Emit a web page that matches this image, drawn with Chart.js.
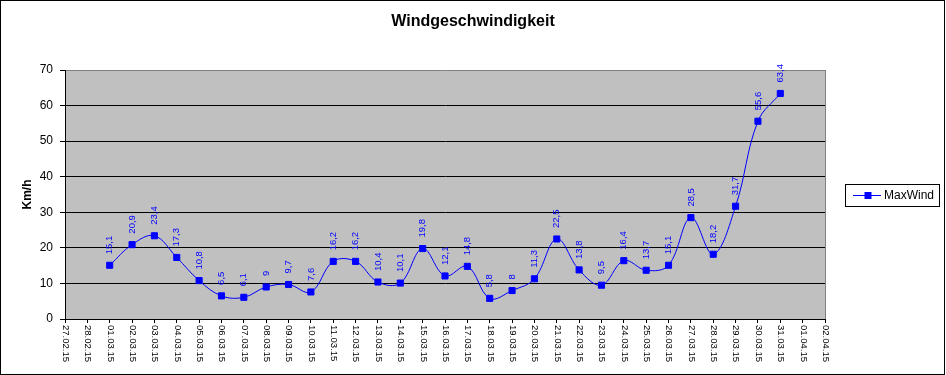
<!DOCTYPE html>
<html>
<head>
<meta charset="utf-8">
<script src="https://cdn.jsdelivr.net/npm/chart.js@4/dist/chart.umd.min.js"></script>
<style>
html,body{margin:0;padding:0;background:#fff;}
#wrap{width:946px;height:375px;}
</style>
</head>
<body>
<div id="wrap"><canvas id="c" width="946" height="375"></canvas></div>
<script>
const chartTitle = 'Windgeschwindigkeit';
const yAxisTitle = 'Km/h';
const seriesName = 'MaxWind';
const dateLabels = ['27.02.15','28.02.15','01.03.15','02.03.15','03.03.15','04.03.15','05.03.15','06.03.15','07.03.15','08.03.15','09.03.15','10.03.15','11.03.15','12.03.15','13.03.15','14.03.15','15.03.15','16.03.15','17.03.15','18.03.15','19.03.15','20.03.15','21.03.15','22.03.15','23.03.15','24.03.15','25.03.15','26.03.15','27.03.15','28.03.15','29.03.15','30.03.15','31.03.15','01.04.15','02.04.15'];
const maxWind = [null,null,15.1,20.9,23.4,17.3,10.8,6.5,6.1,9,9.7,7.6,16.2,16.2,10.4,10.1,19.8,12.1,14.8,5.8,8,11.3,22.5,13.8,9.5,16.4,13.7,15.1,28.5,18.2,31.7,55.6,63.4,null,null];
const yMin = 0, yMax = 70, yStep = 10;

const FONT = "'Liberation Sans', Arial, sans-serif";
const BLUE = '#0000FF';

const deco = {
  id: 'deco',
  beforeDraw(chart) {
    const ctx = chart.ctx, a = chart.chartArea;
    ctx.save();
    ctx.fillStyle = '#ffffff';
    ctx.fillRect(0, 0, chart.width, chart.height);
    ctx.fillStyle = '#C0C0C0';
    ctx.fillRect(a.left, a.top, a.right - a.left, a.bottom - a.top);
    ctx.restore();
  },
  afterDatasetsDraw(chart) {
    const ctx = chart.ctx;
    const meta = chart.getDatasetMeta(0);
    const data = chart.data.datasets[0].data;
    ctx.save();
    ctx.fillStyle = BLUE;
    ctx.font = '9.5px ' + FONT;
    ctx.textAlign = 'left';
    ctx.textBaseline = 'middle';
    meta.data.forEach((pt, i) => {
      const v = data[i];
      if (v === null || v === undefined) return;
      ctx.save();
      ctx.translate(pt.x, pt.y - 11);
      ctx.rotate(-Math.PI / 2);
      ctx.fillText(String(v).replace('.', ','), 0, 0);
      ctx.restore();
    });
    ctx.restore();
  },
  afterDraw(chart) {
    const ctx = chart.ctx;
    const xs = chart.scales.x;
    ctx.save();
    // title centred on the whole canvas
    ctx.fillStyle = '#000';
    ctx.font = 'bold 16px ' + FONT;
    ctx.textAlign = 'center';
    ctx.textBaseline = 'middle';
    ctx.fillText(chartTitle, chart.width / 2, 22);
    // x tick labels, rotated clockwise
    ctx.font = '9.5px ' + FONT;
    ctx.textAlign = 'left';
    ctx.textBaseline = 'middle';
    chart.data.labels.forEach((lab, i) => {
      const x = xs.getPixelForValue(i);
      ctx.save();
      ctx.translate(x + 0.5, xs.top + 6);
      ctx.rotate(Math.PI / 2);
      ctx.fillText(lab, 0, 0);
      ctx.restore();
    });
    // legend
    ctx.strokeStyle = '#000';
    ctx.lineWidth = 1;
    ctx.strokeRect(845.5, 184.5, 94, 22);
    ctx.strokeStyle = BLUE;
    ctx.beginPath();
    ctx.moveTo(853, 195.5);
    ctx.lineTo(881, 195.5);
    ctx.stroke();
    ctx.fillStyle = BLUE;
    ctx.fillRect(864.5, 192, 7, 7);
    ctx.fillStyle = '#000';
    ctx.font = '12px ' + FONT;
    ctx.textAlign = 'left';
    ctx.textBaseline = 'middle';
    ctx.fillText(seriesName, 884, 196);
    // outer border
    ctx.strokeStyle = '#000';
    ctx.strokeRect(0.5, 0.5, 944, 374);
    ctx.restore();
  }
};

new Chart(document.getElementById('c'), {
  type: 'line',
  data: {
    labels: dateLabels,
    datasets: [{
      label: seriesName,
      data: maxWind,
      borderColor: BLUE,
      backgroundColor: BLUE,
      borderWidth: 1,
      tension: 0.38,
      pointStyle: 'rect',
      pointRadius: 4.3,
      pointBorderWidth: 1,
      pointBorderColor: BLUE,
      pointBackgroundColor: BLUE,
      spanGaps: false,
      fill: false
    }]
  },
  options: {
    responsive: false,
    animation: false,
    events: [],
    layout: { padding: { left: 0, right: 121, top: 70, bottom: 0 } },
    plugins: {
      legend: { display: false },
      tooltip: { enabled: false },
      title: { display: false }
    },
    scales: {
      x: {
        type: 'category',
        offset: false,
        border: { display: true, color: '#000', width: 1 },
        grid: {
          display: true,
          drawOnChartArea: true,
          drawTicks: true,
          tickLength: 4,
          tickColor: '#000',
          color: (c) => (c.index === dateLabels.length - 1 ? '#808080' : 'rgba(0,0,0,0)'),
          lineWidth: 1
        },
        ticks: { display: false, autoSkip: false },
        afterFit(scale) { scale.height = 56; }
      },
      y: {
        min: yMin,
        max: yMax,
        border: { display: true, color: '#000', width: 1 },
        grid: {
          drawTicks: true,
          tickLength: 5,
          tickColor: '#000',
          color: (c) => (c.tick && c.tick.value === yMax ? '#808080' : '#000'),
          lineWidth: 1
        },
        ticks: {
          stepSize: yStep,
          color: '#000',
          padding: 7,
          font: { family: FONT, size: 12 }
        },
        title: {
          display: true,
          text: yAxisTitle,
          color: '#000',
          font: { family: FONT, size: 12, weight: 'bold', lineHeight: 1.2 },
          padding: { top: 20, bottom: 0 }
        },
        afterFit(scale) { scale.width = 65; }
      }
    }
  },
  plugins: [deco]
});
</script>
</body>
</html>
